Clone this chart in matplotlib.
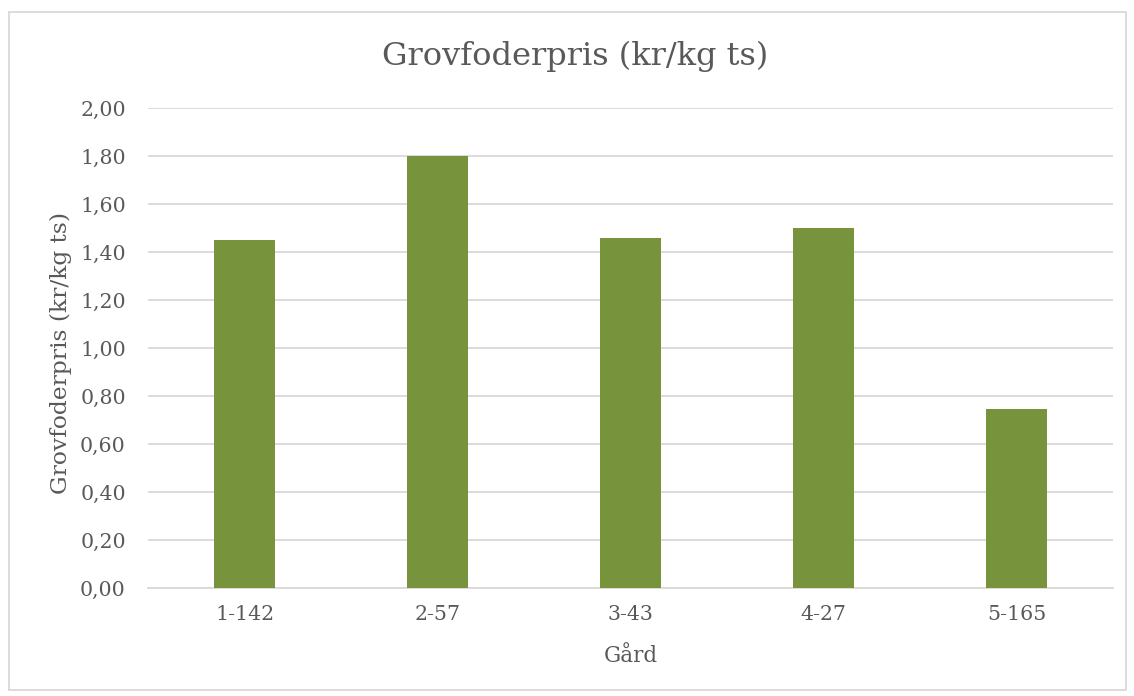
import matplotlib
matplotlib.use("Agg")
import matplotlib.pyplot as plt
from matplotlib.patches import Rectangle
from matplotlib.ticker import FuncFormatter, MultipleLocator

categories = ["1-142", "2-57", "3-43", "4-27", "5-165"]
values = [1.45, 1.80, 1.46, 1.50, 0.745]
title = "Grovfoderpris (kr/kg ts)"
ylabel = "Grovfoderpris (kr/kg ts)"
xlabel = "Gård"

text_color = "#595959"
bar_color = "#77933C"
grid_color = "#D9D9D9"

plt.rcParams["font.family"] = ["DejaVu Serif"]

W, H = 1134, 696
fig = plt.figure(figsize=(W / 100, H / 100), dpi=100)
ax = fig.add_axes([148 / W, 1 - 588 / H, (1113 - 148) / W, (588 - 108) / H])

x = list(range(len(categories)))
ax.bar(x, values, width=0.315, color=bar_color, zorder=3)
ax.set_xlim(-0.5, len(categories) - 0.5)
ax.set_ylim(0, 2.0)
ax.yaxis.set_major_locator(MultipleLocator(0.2))
ax.yaxis.set_major_formatter(FuncFormatter(lambda v, p: f"{v:.2f}".replace(".", ",")))
ax.set_xticks(x)
ax.set_xticklabels(categories)
ax.grid(axis="y", color=grid_color, linewidth=1.3, zorder=0)
for s in ["top", "right", "left"]:
    ax.spines[s].set_visible(False)
ax.spines["bottom"].set_color(grid_color)
ax.spines["bottom"].set_linewidth(1.3)
ax.tick_params(axis="both", length=0, labelsize=14.8, labelcolor=text_color)
ax.tick_params(axis="y", pad=16)
ax.tick_params(axis="x", pad=12)

fig.text(575 / W, 1 - 56 / H, title, ha="center", va="center",
         fontsize=23, color=text_color)
fig.text(61 / W, 1 - 353 / H, ylabel, ha="center", va="center", rotation=90,
         fontsize=16.8, color=text_color)
fig.text((148 + 1113) / 2 / W, 1 - 656 / H, xlabel, ha="center", va="center",
         fontsize=15.5, color=text_color)

fig.patches.append(Rectangle((8.5 / W, 1 - 690 / H), (1126 - 8.5) / W, (690 - 11.5) / H,
                             transform=fig.transFigure, fill=False,
                             edgecolor="#D9D9D9", linewidth=1.3))

fig.savefig("out.png", dpi=100, facecolor="white")
